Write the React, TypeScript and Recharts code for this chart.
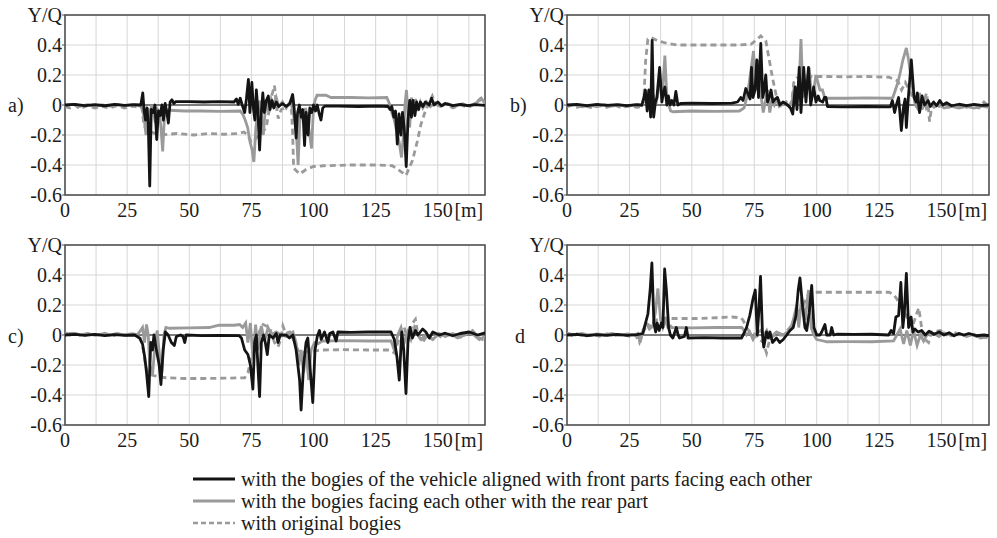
import React from "react";
import {
  LineChart,
  Line,
  XAxis,
  YAxis,
  CartesianGrid,
  ReferenceArea,
  ReferenceLine,
} from "recharts";

type Pt = [number, number];

// axis setup
const X_MAX = 169;
const xTicks = [0, 12.5, 25, 37.5, 50, 62.5, 75, 87.5, 100, 112.5, 125, 137.5, 150, 162.5];
const yTicks = [-0.6, -0.4, -0.2, 0, 0.2, 0.4, 0.6];

// a) front parts facing each other / rear part / original bogies
const aFront: Pt[] = [
  [0, 0], [4, 0.004], [8, -0.004], [12, 0.003], [16, -0.005], [20, 0.004], [24, -0.003], [28, 0.003],
  [30.5, 0], [31.3, 0.08], [31.8, -0.03], [32.4, -0.1], [33, -0.02], [33.5, -0.12], [34.1, -0.54],
  [34.7, -0.03], [35.5, -0.05], [36.2, 0], [36.9, -0.23], [37.6, -0.04], [38.3, -0.07], [39, 0],
  [39.6, -0.1], [40.3, 0.01], [41, -0.05], [41.6, -0.12], [42.3, 0.02], [43, 0.035], [43.8, 0.01],
  [44.5, 0.022], [50, 0.022], [56, 0.02], [62, 0.022], [68, 0.02], [69, 0.04], [69.7, 0.005],
  [70.5, 0.045], [71.3, 0], [72.3, -0.05], [73, 0.04], [73.8, 0.17], [74.4, -0.05], [75.2, 0.15],
  [75.8, -0.02], [76.4, -0.1], [77, 0.1], [77.6, -0.03], [78.3, -0.3], [79, -0.05], [79.6, 0.08],
  [80.2, -0.05], [81, 0.03], [81.8, 0.06], [82.5, -0.03], [83.3, 0.03], [84, -0.02], [85, 0.02],
  [86, -0.01], [87.5, 0.01], [89, -0.01], [90.5, 0.01], [91.6, 0.07], [92.2, -0.02], [93, -0.22],
  [93.6, -0.05], [94.3, 0], [95, -0.08], [95.7, -0.03], [96.4, -0.27], [97, -0.05], [97.8, -0.2],
  [98.5, -0.02], [99.3, -0.05], [100, 0], [100.8, -0.04], [101.5, 0], [102.3, -0.06], [103, -0.1],
  [103.7, -0.02], [104.5, -0.008], [110, -0.008], [118, -0.01], [126, -0.008], [130, -0.01],
  [130.8, -0.03], [131.5, -0.01], [132.3, -0.08], [133, -0.04], [133.7, -0.26], [134.4, -0.06],
  [135.2, -0.2], [135.8, -0.05], [136.5, -0.15], [137.3, -0.41], [138, -0.1], [138.7, 0.03],
  [139.4, -0.08], [140, 0.03], [140.8, -0.07], [141.5, 0.02], [142.3, -0.03], [143, 0.02],
  [144, -0.01], [145, 0.02], [146.5, 0], [147.5, 0.045], [148.5, 0], [150, 0.02], [151.5, -0.005],
  [153, 0.01], [156, -0.004], [159, 0.004], [162, -0.004], [165, 0.003], [169, -0.002],
];
const aRear: Pt[] = [
  [0, -0.005], [3, 0.005], [6, -0.008], [9, 0.002], [12, -0.01], [15, 0], [18, -0.008], [21, 0.003],
  [24, -0.006], [27, 0.002], [30, -0.005], [31, -0.02], [31.8, -0.08], [32.6, -0.2], [33.2, -0.02],
  [34, -0.1], [34.8, 0], [35.6, -0.05], [36.4, -0.12], [37.2, -0.03], [38, -0.05], [38.6, -0.15],
  [39.3, -0.31], [40, -0.08], [40.8, -0.04], [42, -0.035], [48, -0.04], [55, -0.04], [62, -0.042],
  [70.5, -0.04], [71.5, -0.06], [72.5, -0.1], [73.5, -0.15], [74.5, -0.25], [75.3, -0.3], [76, -0.38],
  [76.8, -0.15], [77.5, -0.05], [78.3, 0.03], [79.1, -0.12], [79.8, -0.2], [80.5, -0.05], [81.3, 0.02],
  [82, -0.05], [83, 0.04], [84, 0], [85, 0.05], [86, -0.01], [87.5, 0.02], [89, -0.02], [90.5, 0.02],
  [91.5, -0.02], [92.3, -0.1], [93, -0.15], [93.8, -0.4], [94.5, -0.1], [95.3, -0.05], [96, -0.12],
  [96.8, -0.02], [97.6, -0.1], [98.5, -0.2], [99.2, -0.29], [99.9, -0.05], [100.6, 0.03], [101.4, 0.065],
  [105, 0.065], [107, 0.05], [115, 0.05], [122, 0.048], [129.5, 0.05], [130.5, 0.01], [131.5, -0.05],
  [132.5, -0.1], [133.5, -0.18], [134.5, -0.25], [135.4, -0.35], [136.2, -0.2], [136.8, 0], [137.4, 0.1],
  [138, -0.05], [138.7, -0.15], [139.4, 0.05], [140.1, -0.05], [141, 0.04], [142, -0.04], [143, 0.02],
  [144, -0.02], [145.5, 0.02], [147, -0.01], [149, 0.015], [151, -0.01], [154, 0.01], [157, -0.01],
  [160, 0.008], [163, -0.01], [166, 0.02], [167.5, 0.045], [169, 0.01],
];
const aOrig: Pt[] = [
  [0, -0.01], [2, -0.02], [4, 0], [6, -0.025], [9, -0.005], [12, -0.02], [15, -0.01], [18, -0.02],
  [21, -0.005], [24, -0.02], [27, -0.008], [30, -0.015], [31, -0.02], [31.7, -0.13], [32.5, -0.16],
  [34, -0.17], [36, -0.19], [38, -0.2], [45, -0.19], [52, -0.2], [58, -0.19], [64, -0.195], [70, -0.19],
  [72, -0.18], [73.5, -0.2], [75, -0.25], [76.5, -0.23], [78, -0.2], [79.5, -0.18], [81, -0.15],
  [82, -0.05], [83, 0.05], [84.3, 0.13], [85, 0], [85.8, -0.09], [87, -0.03], [88.5, -0.02], [90, 0],
  [91, 0.01], [91.6, -0.19], [92, -0.42], [94.4, -0.46], [97, -0.43], [100, -0.41], [104, -0.405],
  [115, -0.4], [125, -0.4], [131.7, -0.405], [134, -0.43], [135.7, -0.45], [137.2, -0.47],
  [139.8, -0.37], [141.8, -0.24], [143.2, -0.13], [144.6, -0.06], [146, 0], [147.8, 0.06], [149, 0.01],
  [151, -0.015], [153, 0.01], [156, -0.02], [159, 0], [162, -0.015], [165, 0.01], [167, 0.04], [169, -0.01],
];

// b)
const bFront: Pt[] = [
  [0, 0], [4, 0.004], [8, -0.004], [12, 0.004], [16, -0.003], [20, 0.003], [24, -0.004], [28, 0.002],
  [30, 0], [30.8, 0.05], [31.4, 0.1], [32.1, -0.04], [32.8, 0.1], [33.5, -0.08], [34.1, 0.43],
  [34.7, -0.08], [35.4, 0.02], [36, 0.05], [37.1, 0.25], [38, 0.02], [38.6, 0.08], [39.2, 0.12],
  [40, 0], [40.6, 0.06], [41.3, 0], [42, 0.03], [42.8, 0], [43.6, 0.09], [44.4, 0], [45.5, 0.01],
  [50, 0.012], [58, 0.01], [66, 0.012], [68.3, 0.02], [69.6, 0.05], [70.5, 0.03], [71.6, 0.11],
  [72.6, 0.07], [73.3, 0.04], [73.9, 0.25], [74.5, 0.05], [75.3, 0.1], [76, 0.3], [76.7, 0.05],
  [77.6, 0.41], [78.4, 0.05], [79, 0.1], [79.6, 0.2], [80.3, 0.02], [81, 0.05], [81.7, 0.1],
  [82.5, 0.02], [83.4, 0.04], [84.3, 0.05], [85.2, 0], [86.5, 0.02], [88.4, 0], [89.5, -0.02],
  [90.4, -0.06], [91.4, 0.12], [92.1, -0.03], [93, 0.25], [93.7, -0.05], [94.8, 0.25], [95.7, 0.02],
  [96.7, 0.25], [97.6, 0], [98.8, 0.12], [99.7, 0.02], [100.6, 0.06], [101.2, 0.03], [102.4, 0.02],
  [103.1, 0.05], [103.7, 0.05], [104.3, -0.01], [110, -0.012], [120, -0.01], [129.5, -0.012],
  [130.3, 0.03], [131.2, -0.05], [131.9, 0], [132.8, 0.05], [133.9, -0.17], [134.7, -0.02],
  [135.4, 0.04], [135.9, -0.15], [136.7, 0.05], [137.9, 0.3], [139, 0.05], [139.8, 0.02], [140.3, 0.08],
  [141.2, -0.05], [142.2, 0.06], [143.2, 0], [144.6, 0.03], [145.5, -0.01], [146.8, 0.02], [148, -0.005],
  [149.3, 0.03], [150.5, 0], [152, 0.015], [154, -0.005], [157, 0.005], [160, -0.004], [163, 0.004],
  [166, -0.003], [169, 0],
];
const bRear: Pt[] = [
  [0, -0.01], [3, 0], [6, -0.012], [9, -0.002], [12, -0.01], [15, 0.002], [18, -0.008], [21, 0],
  [24, -0.01], [27, 0], [30, -0.005], [30.8, 0.05], [31.5, 0.02], [32.8, 0.1], [33.6, 0.02],
  [34.8, 0.05], [35.6, 0], [36.6, 0.1], [37.5, 0.15], [38.3, 0.1], [39.2, 0.33], [40, 0.05], [40.8, 0],
  [41.5, -0.04], [42.5, -0.045], [50, -0.04], [60, -0.042], [69, -0.04], [70, -0.03], [70.9, -0.02],
  [72, 0.05], [73, 0.15], [73.8, 0.25], [74.7, 0.36], [75.5, 0.1], [76.2, 0.2], [77, 0.3], [77.8, 0.05],
  [78.6, -0.05], [79.5, 0.03], [80.3, 0.1], [81.2, -0.05], [82, 0.03], [83, 0], [84, 0.04], [85, -0.01],
  [87, 0.01], [89, -0.01], [90.2, 0.03], [91, 0.12], [91.8, 0.02], [92.4, 0.05], [93, 0.15], [93.7, 0.44],
  [94.5, 0.05], [95.5, 0.1], [97, 0.25], [98, 0.05], [99, 0.12], [99.7, 0.2], [100.5, 0.15], [101.3, 0.1],
  [102.3, 0.1], [103.2, 0.05], [104.5, 0.045], [112, 0.045], [120, 0.047], [129.5, 0.045], [130.5, 0.05],
  [131.5, 0.1], [132.5, 0.15], [133.5, 0.22], [134.5, 0.3], [135.9, 0.38], [136.8, 0.3], [137.6, 0.2],
  [138.5, 0.1], [139.5, 0], [140.3, -0.02], [141.2, 0.08], [142.2, -0.03], [143.2, 0.02], [143.9, -0.02],
  [145, 0.01], [147, -0.015], [149, 0.005], [151, -0.02], [154, -0.01], [157, -0.02], [160, -0.01],
  [163, -0.02], [166, -0.008], [169, -0.015],
];
const bOrig: Pt[] = [
  [0, -0.01], [2, 0], [4, -0.015], [7, -0.005], [10, -0.02], [13, -0.005], [16, -0.015], [19, 0],
  [22, -0.02], [25, -0.005], [28, -0.015], [30, -0.01], [30.8, 0.05], [31.5, 0.3], [32.4, 0.44],
  [33.7, 0.45], [36.1, 0.43], [40.2, 0.41], [44.2, 0.4], [52, 0.4], [60, 0.4], [68, 0.4], [73.6, 0.405],
  [75.6, 0.43], [77.6, 0.46], [79.6, 0.43], [81, 0.3], [82.3, 0.18], [83.7, 0.07], [84.8, 0.03],
  [86, -0.01], [87.8, 0.02], [89, -0.01], [90, 0.02], [90.8, 0.15], [92, 0.18], [96, 0.19], [104, 0.19],
  [112, 0.188], [120, 0.19], [129, 0.185], [131, 0.17], [132.5, 0.16], [134, 0.1], [135.5, 0.15],
  [137, 0.1], [138.5, 0.05], [140, 0], [141.5, -0.02], [143, 0.03], [144, 0.08], [144.6, 0],
  [145.2, -0.11], [146, -0.02], [147.5, 0.02], [149, -0.01], [151, 0], [153, -0.015], [156, 0],
  [159, -0.02], [162, -0.005], [165, -0.02], [167, 0.02], [169, -0.01],
];

// c)
const cFront: Pt[] = [
  [0, 0], [4, 0.004], [8, -0.003], [12, 0.004], [16, -0.004], [20, 0.003], [24, -0.002], [28, 0],
  [30, -0.02], [31.2, -0.06], [32.1, -0.15], [32.8, -0.25], [33.7, -0.41], [34.5, -0.05], [35.2, -0.1],
  [35.8, 0], [36.8, -0.1], [37.9, -0.2], [38.6, -0.33], [39.5, -0.1], [40.4, 0.02], [41.5, 0],
  [42.8, -0.05], [44, -0.07], [44.8, -0.01], [46.5, 0], [47.5, -0.01], [48.2, -0.05], [48.8, 0],
  [55, -0.004], [62, -0.002], [70, -0.004], [71, -0.02], [72.3, -0.1], [73.6, -0.13], [74.6, -0.2],
  [75.6, -0.36], [76.3, -0.05], [77, 0], [77.6, -0.2], [78.3, -0.41], [79, -0.05], [79.9, 0],
  [80.6, -0.05], [81.4, -0.13], [82.2, 0], [83.7, -0.02], [85, 0.01], [85.7, -0.05], [86.6, 0],
  [89, 0], [90.3, -0.02], [91.7, 0], [93, -0.1], [94.4, -0.3], [95, -0.5], [96, -0.2], [97, -0.05],
  [97.7, -0.02], [99, -0.3], [99.7, -0.45], [100.6, -0.1], [101.5, -0.01], [102.4, 0.03], [103.1, -0.03],
  [104.4, 0.02], [105.8, -0.05], [106.5, 0.01], [107.8, 0.02], [109.1, -0.04], [109.8, 0.02],
  [115, 0.018], [122, 0.02], [131.2, 0.02], [132.5, -0.03], [133.6, -0.15], [134.5, -0.3],
  [135.5, 0.02], [136.3, -0.1], [137.2, -0.39], [138, -0.05], [138.8, 0.05], [139.8, -0.02], [141, 0.03],
  [142, 0], [143.9, 0.04], [145.2, 0.02], [146.6, -0.02], [148, 0.02], [150.6, 0], [153, 0.012],
  [156, -0.005], [159, 0.01], [162.7, 0.02], [166, 0], [169, 0.015],
];
const cRear: Pt[] = [
  [0, 0.005], [3, 0.012], [6, 0], [9, 0.01], [12, -0.002], [15, 0.008], [18, 0], [21, 0.01], [24, 0],
  [27, 0.008], [29, 0], [30, 0.02], [31.2, 0.05], [32, -0.05], [32.8, 0.07], [33.5, 0], [34.1, -0.2],
  [35.2, -0.27], [36.3, -0.05], [37.1, 0.03], [38.1, -0.15], [39, -0.25], [39.8, 0], [40.6, 0.05],
  [42, 0.045], [50, 0.047], [58, 0.05], [62, 0.065], [68, 0.065], [70.3, 0.07], [71.5, 0.05],
  [72.7, 0.08], [73.6, -0.05], [74.6, 0.08], [75.6, -0.15], [76.7, 0.07], [77.6, -0.1], [79, 0.06],
  [80.3, -0.04], [81.7, 0.05], [83, 0], [85, 0.02], [87, 0], [89, -0.01], [91.7, 0.02], [93, -0.05],
  [94.1, -0.2], [95, -0.1], [96, -0.25], [97, -0.12], [98.1, -0.3], [99, -0.1], [100.4, -0.05],
  [101.7, -0.06], [103, -0.045], [104, -0.04], [112, -0.038], [122, -0.04], [131.2, -0.04],
  [132.5, -0.1], [133.9, 0], [135.2, 0.05], [136.5, -0.05], [137.9, 0.02], [139.2, -0.03], [140.6, 0.05],
  [142, 0], [143.3, -0.03], [145, 0], [148, -0.03], [150.5, 0.01], [153, -0.01], [156, 0.01],
  [159, -0.015], [162, 0.02], [164.5, 0], [166.7, -0.03], [169, -0.01],
];
const cOrig: Pt[] = [
  [0, 0.015], [2, 0], [4, 0.012], [7, -0.005], [10, 0.01], [13, 0], [16, 0.012], [19, -0.005],
  [22, 0.008], [25, -0.003], [28, 0.005], [30, 0], [31.5, -0.1], [32.4, -0.2], [33.5, -0.26],
  [35.5, -0.27], [38.2, -0.28], [40.8, -0.285], [48, -0.29], [56, -0.29], [64, -0.288], [72.3, -0.285],
  [73.6, -0.25], [75, -0.15], [76.3, -0.05], [77.5, 0], [79.7, 0.07], [82.3, 0.05], [84.3, -0.05],
  [85.7, -0.08], [86.8, -0.03], [87.7, 0.06], [88.8, 0.01], [90.4, 0.02], [92.4, -0.05], [93.7, -0.1],
  [95, -0.12], [98, -0.11], [103.7, -0.1], [112, -0.098], [122, -0.1], [130.5, -0.1], [132.5, -0.12],
  [133.9, -0.05], [135.2, 0.02], [136.5, 0.05], [137.9, -0.03], [139.9, 0.08], [141, 0.105], [142, 0],
  [143.9, -0.05], [145.8, 0], [148, -0.03], [150, 0], [152, -0.02], [155, 0.01], [158, -0.02], [161, 0],
  [164, 0.03], [166, -0.01], [168, -0.03], [169, -0.02],
];

// d
const dFront: Pt[] = [
  [0, 0], [4, 0.004], [8, -0.004], [12, 0.003], [16, -0.003], [20, 0.004], [24, -0.003], [28, 0.002],
  [30.4, 0.01], [31.3, 0.07], [32.4, 0.14], [33.3, 0.3], [34, 0.48], [34.8, 0.08], [35.5, 0.02],
  [36.1, 0.08], [36.9, 0.03], [37.8, 0.08], [38.4, 0.05], [39.1, 0.44], [39.8, 0.3], [40.7, 0.05],
  [41.4, 0], [42.4, -0.02], [43.8, 0.05], [44.5, 0], [45.1, -0.02], [47, -0.01], [47.8, 0.05],
  [48.5, -0.02], [55, -0.018], [62, -0.02], [69.9, -0.02], [70.8, 0.01], [71.9, 0.05], [73.2, 0.13],
  [74.6, 0.25], [75.4, 0.3], [76.2, 0], [76.8, 0.15], [77.5, 0.39], [78.3, 0], [78.8, -0.08],
  [79.9, 0.02], [80.6, -0.02], [81.3, 0.02], [82.3, -0.05], [83.9, -0.02], [85.2, -0.05], [86.6, -0.03],
  [88, 0], [89.3, 0.03], [90.6, 0.05], [91.7, 0.13], [92.6, 0.3], [93.3, 0.38], [94.4, 0.18],
  [95.3, 0.05], [96, 0.03], [97, 0.15], [98, 0.33], [98.9, 0.05], [100, 0], [101.3, 0], [102, 0.02],
  [103.3, 0.07], [104, 0], [105.4, 0], [106, 0.05], [106.8, 0], [108, 0.005], [115, 0.004],
  [122, 0.005], [128.8, 0], [129.8, 0.03], [130.8, 0.01], [131.7, 0.12], [132.8, 0.13], [133.7, 0.35],
  [134.5, 0.05], [135.1, 0.15], [135.9, 0.41], [136.8, 0.05], [137.8, 0.12], [138.5, 0.02],
  [139.3, 0.04], [140.6, 0.02], [142, 0.03], [143.5, 0], [145, 0.025], [147, 0.005], [149, 0.02],
  [151, 0], [153, 0.015], [155, -0.005], [157, 0.01], [159, 0], [161, 0.01], [164, -0.005], [167, 0],
  [169, -0.005],
];
const dRear: Pt[] = [
  [0, 0.012], [3, 0], [6, 0.01], [9, -0.003], [12, 0.008], [15, 0], [18, 0.01], [21, -0.002],
  [24, 0.008], [27, 0], [28.4, 0.01], [29.3, -0.05], [30.4, 0.03], [31.7, 0.08], [33, 0.04],
  [34.4, 0.06], [35.4, 0.15], [36.4, 0.31], [37.5, 0.1], [38.4, 0.05], [39.4, 0.1], [40.4, 0.05],
  [41.5, 0.06], [42, 0.05], [50, 0.048], [60, 0.05], [70, 0.05], [70.5, 0.04], [71.9, 0], [73.2, 0.02],
  [74.5, -0.03], [76, 0.01], [77.5, 0.03], [79, 0], [80, 0.03], [81.3, -0.02], [83.9, 0.02], [86.6, 0],
  [89.3, 0.03], [90.6, 0.1], [92, 0.2], [92.8, 0.05], [94, 0.25], [95.4, 0.1], [96.7, 0.3], [97.8, 0.05],
  [98.8, 0], [100, -0.03], [102.7, -0.04], [104, -0.045], [112, -0.044], [122, -0.045], [130.8, -0.04],
  [132.1, 0], [133.4, 0.04], [134.8, -0.06], [136.1, 0.03], [137.5, -0.07], [138.8, 0.03], [140.2, -0.07],
  [141.5, 0], [142.8, -0.04], [144.8, 0.02], [146.9, 0.01], [149, -0.01], [151, 0.015], [154, -0.005],
  [157, 0.01], [160, -0.01], [163, 0.005], [165.6, -0.02], [169, -0.01],
];
const dOrig: Pt[] = [
  [0, 0.01], [2, -0.005], [4, 0.008], [7, -0.01], [10, 0.005], [13, -0.008], [16, 0.008], [19, -0.005],
  [22, 0.006], [25, -0.008], [27.5, 0], [29, -0.05], [30.4, 0.02], [32.4, 0.07], [34.4, 0.05],
  [35.7, 0.1], [37.1, 0.11], [45, 0.11], [52, 0.11], [60, 0.115], [66, 0.12], [69.5, 0.115], [70.5, 0.1],
  [71.9, 0.05], [73.2, 0.02], [75.8, 0], [77.2, -0.03], [78.6, -0.05], [79.9, -0.12], [81.3, -0.02],
  [83.3, 0], [86.6, 0], [89.3, 0.05], [91.3, 0.1], [92.6, 0.15], [94.6, 0.2], [96.7, 0.27], [98.5, 0.285],
  [100, 0.285], [110, 0.285], [120, 0.285], [129, 0.285], [130.8, 0.27], [132.1, 0.24], [133.5, 0.2],
  [136.1, 0.12], [138.2, 0.05], [140.2, 0.15], [140.9, 0.18], [142, 0.05], [142.8, -0.02],
  [144.8, -0.05], [146, 0.02], [149.5, 0.03], [152, 0], [155, 0.02], [158, -0.01], [161, 0.01],
  [164, -0.01], [166, 0], [169, -0.03],
];

const legendItems = [
  "with the bogies of the vehicle aligned with front parts facing each other",
  "with the bogies facing each other with the rear part",
  "with original bogies",
];

const FONT = "Liberation Serif";
const TEXT = "#1c1c1c";
const BLACK = "#141414";
const GRAY = "#9a9a9a";

const toData = (pts: Pt[]) => pts.map(([x, y]) => ({ x, y }));

const fmtY = (v: number) => {
  if (v > 0.55) return "Y/Q";
  if (v === 0) return "0";
  return v.toFixed(1);
};

const fmtX = (v: number) => {
  if (v === 162.5) return "[m]";
  if (v % 25 === 0) return String(v);
  return "";
};

interface PanelProps {
  width: number;
  marginLeft: number;
  marginRight: number;
  front: Pt[];
  rear: Pt[];
  orig: Pt[];
}

const Panel: React.FC<PanelProps> = ({ width, marginLeft, marginRight, front, rear, orig }) => (
  <LineChart
    width={width}
    height={225}
    margin={{ top: 15, right: marginRight, bottom: 0, left: marginLeft }}
  >
    <CartesianGrid stroke="#d6d6d6" strokeWidth={1} />
    <XAxis
      type="number"
      dataKey="x"
      domain={[0, X_MAX]}
      ticks={xTicks}
      interval={0}
      tickFormatter={fmtX}
      tick={{ fill: TEXT, fontSize: 20, fontFamily: FONT }}
      tickLine={false}
      axisLine={false}
      height={30}
      allowDataOverflow
    />
    <YAxis
      type="number"
      domain={[-0.6, 0.6]}
      ticks={yTicks}
      interval={0}
      width={55}
      tickSize={3}
      tickMargin={0}
      tickFormatter={fmtY}
      tick={{ fill: TEXT, fontSize: 20, fontFamily: FONT }}
      tickLine={{ stroke: "#555" }}
      axisLine={false}
      allowDataOverflow
    />
    <ReferenceArea x1={0} x2={X_MAX} y1={-0.6} y2={0.6} fill="none" stroke="#4a4a4a" strokeWidth={1.5} />
    <ReferenceLine y={0} stroke="#111" strokeWidth={1} />
    <Line
      data={toData(orig)}
      dataKey="y"
      type="linear"
      stroke={GRAY}
      strokeWidth={2.8}
      strokeDasharray="6 4"
      dot={false}
      isAnimationActive={false}
    />
    <Line
      data={toData(rear)}
      dataKey="y"
      type="linear"
      stroke={GRAY}
      strokeWidth={2.8}
      dot={false}
      isAnimationActive={false}
    />
    <Line
      data={toData(front)}
      dataKey="y"
      type="linear"
      stroke={BLACK}
      strokeWidth={2.8}
      strokeLinejoin="round"
      dot={false}
      isAnimationActive={false}
    />
  </LineChart>
);

const labelStyle = (left: number, top: number): React.CSSProperties => ({
  position: "absolute",
  left,
  top,
  fontFamily: "'Liberation Serif', serif",
  fontSize: 20,
  lineHeight: "22px",
  color: TEXT,
  whiteSpace: "nowrap",
});

const App: React.FC = () => {
  const rowY = [479, 501, 523];
  return (
    <div style={{ position: "absolute", left: 0, top: 0, width: 997, height: 538, background: "#fff" }}>
      <div style={{ position: "absolute", left: 0, top: 0 }}>
        <Panel width={497} marginLeft={10} marginRight={12} front={aFront} rear={aRear} orig={aOrig} />
      </div>
      <div style={{ position: "absolute", left: 497, top: 0 }}>
        <Panel width={500} marginLeft={15} marginRight={8} front={bFront} rear={bRear} orig={bOrig} />
      </div>
      <div style={{ position: "absolute", left: 0, top: 230 }}>
        <Panel width={497} marginLeft={10} marginRight={12} front={cFront} rear={cRear} orig={cOrig} />
      </div>
      <div style={{ position: "absolute", left: 497, top: 230 }}>
        <Panel width={500} marginLeft={15} marginRight={8} front={dFront} rear={dRear} orig={dOrig} />
      </div>
      <div style={labelStyle(8, 94)}>a)</div>
      <div style={labelStyle(510, 94)}>b)</div>
      <div style={labelStyle(8, 325)}>c)</div>
      <div style={labelStyle(515, 325)}>d</div>
      <svg width={997} height={538} style={{ position: "absolute", left: 0, top: 0, pointerEvents: "none" }}>
        <line x1={193} x2={235} y1={rowY[0]} y2={rowY[0]} stroke={BLACK} strokeWidth={3} />
        <line x1={193} x2={235} y1={rowY[1]} y2={rowY[1]} stroke={GRAY} strokeWidth={3} />
        <line x1={193} x2={235} y1={rowY[2]} y2={rowY[2]} stroke={GRAY} strokeWidth={2.5} strokeDasharray="5 3" />
      </svg>
      {legendItems.map((t, i) => (
        <div key={t} style={labelStyle(241, rowY[i] - 11)}>
          {t}
        </div>
      ))}
    </div>
  );
};

export default App;
